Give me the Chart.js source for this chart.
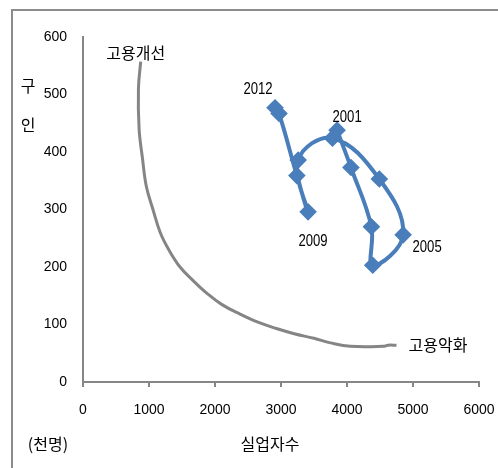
<!DOCTYPE html>
<html>
<head>
<meta charset="utf-8">
<script src="https://cdn.jsdelivr.net/npm/chart.js@4"></script>
<style>
  html, body { margin: 0; padding: 0; background: #fff; }
  #wrap { width: 498px; height: 468px; position: relative; }
</style>
</head>
<body>
<div id="wrap"><canvas id="beveridge" width="498" height="468"></canvas></div>
<script>
// 연도별 실업자수(천명) / 구인(천명)
var years = ['2001','2002','2003','2004','2005','2006','2007','2008','2009','2010','2011','2012'];
var unemployed = [3850, 4060, 4370, 4390, 4850, 4490, 3780, 3260, 3410, 3240, 2970, 2910];
var vacancies = [438, 373, 270, 203, 256, 353, 424, 386, 296, 359, 467, 477];
var shownYears = ['2001', '2005', '2009', '2012'];

// 이론적 곡선 (고용개선 -> 고용악화)
var curveX = [874, 840, 850, 900, 960, 1060, 1170, 1300, 1470, 1680, 1870, 2100, 2380, 2650, 2930, 3200, 3500, 3750, 4050, 4550, 4620, 4750];
var curveY = [557, 510, 440, 390, 340, 300, 260, 230, 200, 175, 155, 135, 118, 104, 93, 84, 76, 68, 62, 62, 64, 64];

var xTicks = [0, 1000, 2000, 3000, 4000, 5000, 6000];
var yTicks = [0, 100, 200, 300, 400, 500, 600];

var NUMFONT = "'Liberation Sans', Arial, sans-serif";
var KR = "'Noto Sans CJK KR', sans-serif";

function toPoints(xs, ys) {
    var pts = [];
    for (var i = 0; i < xs.length; i++) {
        pts.push({x: xs[i], y: ys[i]});
    }
    return pts;
}

// narrow looking text: squeeze horizontally
function narrowText(ctx, txt, x, y, sx) {
    ctx.save();
    ctx.translate(x, y);
    ctx.scale(sx, 1);
    ctx.fillText(txt, 0, 0);
    ctx.restore();
}

var textPlugin = {
    id: 'texts',
    afterDraw: function(chart) {
        var ctx = chart.ctx;
        var xs = chart.scales.x, ys = chart.scales.y;
        ctx.save();
        // frame (left / top only visible)
        ctx.strokeStyle = '#8c8c8c';
        ctx.lineWidth = 2;
        ctx.beginPath();
        ctx.moveTo(12, 470);
        ctx.lineTo(12, 10);
        ctx.lineTo(500, 10);
        ctx.stroke();

        ctx.fillStyle = '#000';
        ctx.textAlign = 'center';
        ctx.textBaseline = 'middle';

        // year labels
        var offs = {'2001': [10, -13], '2005': [24, 13], '2009': [5, 30], '2012': [-17, -18]};
        ctx.font = '16px ' + NUMFONT;
        shownYears.forEach(function(y) {
            var i = years.indexOf(y);
            var px = xs.getPixelForValue(unemployed[i]);
            var py = ys.getPixelForValue(vacancies[i]);
            narrowText(ctx, y, px + offs[y][0], py + offs[y][1], 0.82);
        });

        // curve end labels
        ctx.font = '16px ' + KR;
        var n = curveX.length - 1;
        ctx.fillText('고용개선', xs.getPixelForValue(curveX[0]) - 5, ys.getPixelForValue(curveY[0]) - 9);
        ctx.textAlign = 'left';
        ctx.fillText('고용악화', xs.getPixelForValue(curveX[n]) + 12, ys.getPixelForValue(curveY[n]));

        // axis titles
        ctx.textAlign = 'center';
        ctx.fillText('구', 28, 86);
        ctx.fillText('인', 28, 125);
        ctx.fillText('(천명)', 48, 444);
        ctx.fillText('실업자수', 270, 444);
        ctx.restore();
    }
};

var chart = new Chart(document.getElementById('beveridge'), {
    type: 'scatter',
    data: {
        datasets: [{
            label: 'curve',
            data: toPoints(curveX, curveY),
            showLine: true,
            borderColor: '#858585',
            borderWidth: 3,
            pointRadius: 0,
            tension: 0.4
        }, {
            label: 'korea',
            data: toPoints(unemployed, vacancies),
            showLine: true,
            borderColor: '#4a7ebb',
            backgroundColor: '#4a7ebb',
            borderWidth: 4,
            pointStyle: 'rectRot',
            pointRadius: 6,
            tension: 0.4
        }]
    },
    options: {
        responsive: false,
        animation: false,
        layout: { padding: { left: 0, top: 37, right: 19, bottom: 0 } },
        plugins: { legend: { display: false }, tooltip: { enabled: false } },
        scales: {
            x: {
                type: 'linear',
                min: 0, max: 6000,
                afterFit: function(s) {
                    s.height = 86;
                    s.paddingLeft = 0;
                    s.paddingRight = 0;
                },
                afterBuildTicks: function(s) { s.ticks = xTicks.map(function(v) { return {value: v}; }); },
                grid: { drawOnChartArea: false, drawTicks: true, tickLength: 5, color: '#868686', lineWidth: 2 },
                border: { color: '#868686', width: 2 },
                ticks: {
                    font: { family: NUMFONT, size: 14 }, color: '#000', padding: 15, maxRotation: 0,
                    callback: function(v) { return String(v); }
                }
            },
            y: {
                type: 'linear',
                min: 0, max: 600,
                afterFit: function(s) { s.width = 83; },
                afterBuildTicks: function(s) { s.ticks = yTicks.map(function(v) { return {value: v}; }); },
                grid: { drawOnChartArea: false, drawTicks: false },
                border: { color: '#868686', width: 2 },
                ticks: {
                    font: { family: NUMFONT, size: 14 }, color: '#000', padding: 16,
                    callback: function(v) { return String(v); }
                }
            }
        }
    },
    plugins: [textPlugin]
});
</script>
</body>
</html>
